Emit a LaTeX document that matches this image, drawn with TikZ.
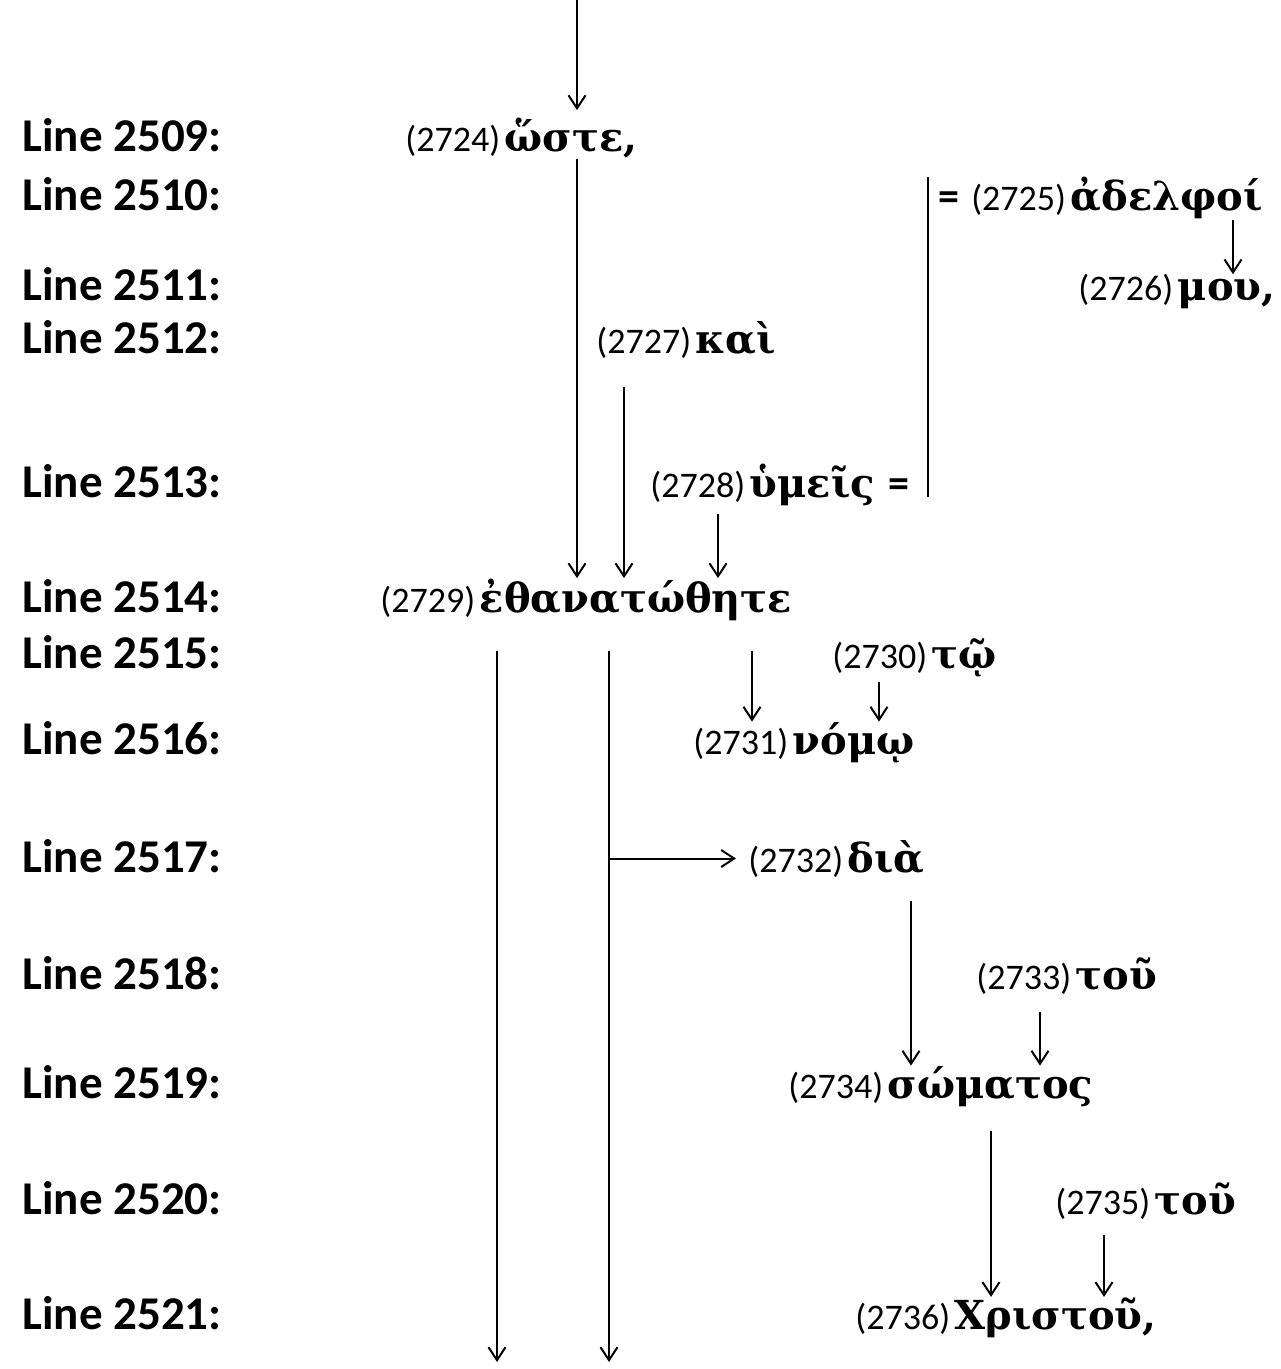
\documentclass[tikz,border=0pt]{standalone}
\usepackage{fontspec}
\setmainfont{Carlito}
\newfontfamily\gkfam{DejaVu Serif}
\usetikzlibrary{arrows.meta}
\newcommand\lblf{\fontsize{23.5}{28}\selectfont\bfseries}
\newcommand\numf{\fontsize{18}{21}\selectfont}
\newcommand\gk{\gkfam\fontsize{20}{24}\selectfont\bfseries}
\newcommand\eqs{{\fontsize{21}{24}\selectfont\bfseries =}}
\begin{document}
\begin{tikzpicture}[x=0.5pt,y=-0.5pt,
 lbl/.style={anchor=base west,inner sep=0pt,font=\lblf},
 word/.style={anchor=base west,inner sep=0pt},
 arr/.style={line width=1pt,-{Straight Barb[length=6.5pt,width=8.5pt]}},
 bar/.style={line width=1pt}]
\useasboundingbox (0,0) rectangle (1280,1369);
\foreach \n/\y in {2509/152,2510/211,2511/301,2512/354,2513/497,2514/612,2515/668,2516/754,2517/872,2518/989,2519/1098,2520/1214,2521/1329}
  \node[lbl] (L\n) at (22,\y) {Line \n:};
\node[word] (w2724) at (405,152) {{\numf (2724)} {\gk ὥστε,}};
\node[word] (w2725) at (938,211) {\eqs\hspace{6pt}{\numf (2725)} {\gk ἀδελφοί}};
\node[word] (w2726) at (1078,301) {{\numf (2726)} {\gk μου,}};
\node[word] (w2727) at (596,354) {{\numf (2727)} {\gk καὶ}};
\node[word] (w2728) at (650,497) {{\numf (2728)} {\gk ὑμεῖς}\hspace{7pt}\eqs};
\node[word] (w2729) at (380,612) {{\numf (2729)} {\gk ἐθανατώθητε}};
\node[word] (w2730) at (832,668) {{\numf (2730)} {\gk τῷ}};
\node[word] (w2731) at (693,754) {{\numf (2731)} {\gk νόμῳ}};
\node[word] (w2732) at (748,872) {{\numf (2732)} {\gk διὰ}};
\node[word] (w2733) at (976,989) {{\numf (2733)} {\gk τοῦ}};
\node[word] (w2734) at (788,1098) {{\numf (2734)} {\gk σώματος}};
\node[word] (w2735) at (1055,1214) {{\numf (2735)} {\gk τοῦ}};
\node[word] (w2736) at (855,1329) {{\numf (2736)} {\gk Χριστοῦ,}};
\coordinate (top) at (577,0);
\coordinate (c577) at (577,0);
\coordinate (c624) at (624,0);
\coordinate (c718) at (718,0);
\coordinate (c928) at (928,0);
\coordinate (c1233) at (1233,0);
\coordinate (c497) at (497,0);
\coordinate (c609) at (609,0);
\coordinate (c752) at (752,0);
\coordinate (c879) at (879,0);
\coordinate (c911) at (911,0);
\coordinate (c1040) at (1040,0);
\coordinate (c991) at (991,0);
\coordinate (c1104) at (1104,0);
\coordinate (e497) at (497,1362);
\coordinate (e609) at (609,1362);
\draw[arr,shorten >=4pt] (top) -- (w2724.north -| top);
\draw[arr] (w2724.south -| c577) -- (w2729.north -| c577);
\draw[arr,shorten <=14pt] (w2727.south -| c624) -- (w2729.north -| c624);
\draw[arr,shorten <=4pt] (w2728.south -| c718) -- (w2729.north -| c718);
\draw[bar] (w2725.north -| c928) -- (w2728.base -| c928);
\draw[arr] (w2725.south -| c1233) -- (w2726.north -| c1233);
\draw[arr,shorten <=15pt] (w2729.south -| c497) -- (e497);
\draw[arr,shorten <=15pt] (w2729.south -| c609) -- (e609);
\draw[arr,shorten >=6pt] (c609 |- w2732.west) -- (w2732.west);
\draw[arr,shorten <=15pt] (w2729.south -| c752) -- (w2731.north -| c752);
\draw[arr,shorten <=2pt] (w2730.south -| c879) -- (w2731.north -| c879);
\draw[arr,shorten <=12pt] (w2732.south -| c911) -- (w2734.north -| c911);
\draw[arr,shorten <=9pt] (w2733.south -| c1040) -- (w2734.north -| c1040);
\draw[arr,shorten <=12pt] (w2734.south -| c991) -- (w2736.north -| c991);
\draw[arr,shorten <=8pt] (w2735.south -| c1104) -- (w2736.north -| c1104);
\end{tikzpicture}
\end{document}
